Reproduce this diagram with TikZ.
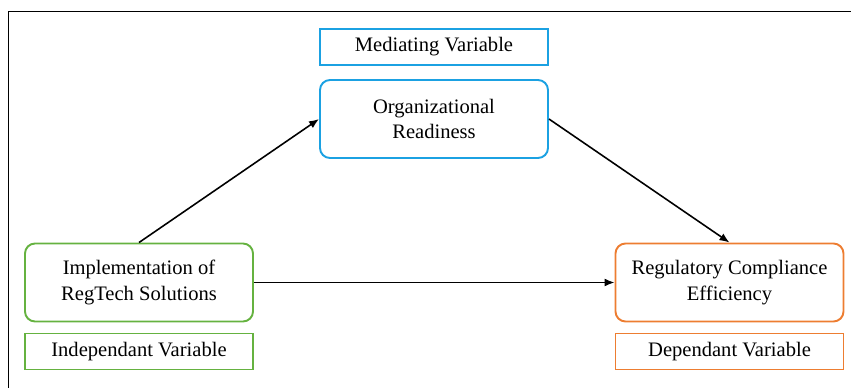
\documentclass[tikz,border=0pt]{standalone}
\usepackage{fontspec}
\setmainfont{Liberation Serif}
\usetikzlibrary{arrows.meta}

\begin{document}
\begin{tikzpicture}[
        varbox/.style={draw, line width=1.1pt, minimum width=4.56cm, minimum height=1.56cm, rounded corners=0.2cm, align=center, font=\fontsize{11.7}{14.5}\selectfont},
        taglabel/.style={draw, line width=1.1pt, minimum width=4.56cm, minimum height=0.72cm, font=\fontsize{11.7}{14.5}\selectfont},
        link/.style={line width=0.9pt, -{Latex[length=2mm,width=1.6mm]}}
    ]

                % 定义颜色
                \definecolor{medblue}{RGB}{27, 161, 226}
                \definecolor{indgreen}{RGB}{101, 178, 64}
                \definecolor{deporange}{RGB}{237, 125, 49}

                \useasboundingbox (0, 0) rectangle (17.02, 7.76);

                % 外框
                \draw[line width=1.1pt] (0.17, 0) -- (0.17, 7.53) -- (17.02, 7.53);

                % 中介变量
                \node[taglabel, medblue] (medtag) at (8.68, 6.82) {\textcolor{black}{Mediating Variable}};
                \node[varbox, medblue] (org) at (8.68, 5.38) {\textcolor{black}{Organizational}\\\textcolor{black}{Readiness}};

                % 自变量
                \node[varbox, indgreen] (impl) at (2.78, 2.11) {\textcolor{black}{Implementation of}\\\textcolor{black}{RegTech Solutions}};
                \node[taglabel, indgreen] (indtag) at (2.78, 0.73) {\textcolor{black}{Independant Variable}};

                % 因变量
                \node[varbox, deporange] (reg) at (14.59, 2.11) {\textcolor{black}{Regulatory Compliance}\\\textcolor{black}{Efficiency}};
                \node[taglabel, deporange] (deptag) at (14.59, 0.73) {\textcolor{black}{Dependant Variable}};

                % 箭头
                \draw[link] (impl.north) -- (org.west);
                \draw[link] (org.east) -- (reg.north);
                \draw[link] (impl.east) -- (reg.west);

            \end{tikzpicture}
\end{document}
